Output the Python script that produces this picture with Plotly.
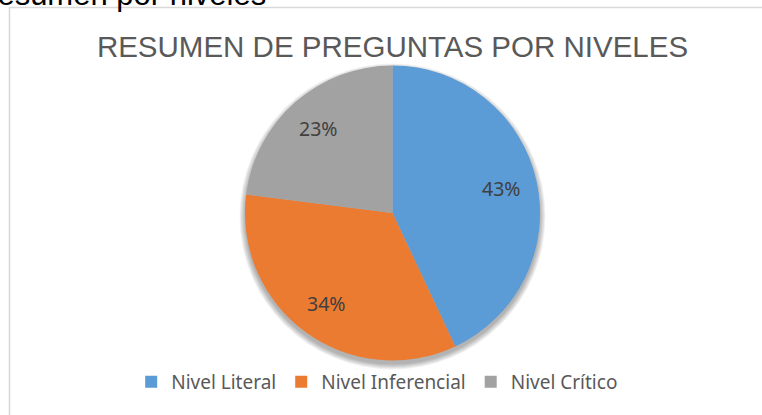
import math
import plotly.graph_objects as go

# Question counts by comprehension level (percent of total)
niveles = ["Nivel Literal", "Nivel Inferencial", "Nivel Crítico"]
porcentajes = [43, 34, 23]
colores = ["#5B9BD6", "#EC7B32", "#A2A2A2"]

titulo = "RESUMEN DE PREGUNTAS POR NIVELES"
encabezado = "Resumen por niveles"

W, H = 762, 415

# pie placement in pixels (centre and radius)
CX, CY, R = 392.5, 213.0, 147.5
dom_x = [(CX - R) / W, (CX + R) / W]
dom_y = [(H - CY - R) / H, (H - CY + R) / H]

fig = go.Figure(
    go.Pie(
        labels=niveles,
        values=porcentajes,
        sort=False,
        direction="clockwise",
        rotation=0,
        marker=dict(colors=colores, line=dict(width=0)),
        textinfo="none",
        hoverinfo="label+percent",
        domain=dict(x=dom_x, y=dom_y),
    )
)

# soft drop shadow under the pie
for k in range(6):
    rr = R + 0.5 + k
    fig.add_shape(
        type="circle", xref="paper", yref="paper", layer="below",
        x0=(CX - rr) / W, x1=(CX + rr) / W,
        y0=(H - (CY + 3.5) - rr) / H, y1=(H - (CY + 3.5) + rr) / H,
        line=dict(width=0), fillcolor="rgba(0,0,0,0.055)",
    )

# percentage labels placed at each slice's mid-angle
total = sum(porcentajes)
acum = 0.0
for v in porcentajes:
    mid = (acum + v / 2) / total * 2 * math.pi
    acum += v
    px = CX + 0.76 * R * math.sin(mid)
    py = CY - 0.76 * R * math.cos(mid)
    fig.add_annotation(
        text=f"{round(v / total * 100)}%", xref="paper", yref="paper",
        x=px / W, y=(H - py) / H, xanchor="center", yanchor="middle",
        showarrow=False, font=dict(family="Noto Sans", size=19.5, color="#404040"),
    )

# chart frame (open on the right and bottom edges of the page)
fig.add_shape(
    type="rect", xref="paper", yref="paper",
    x0=9.5 / W, x1=1.05, y0=-0.05, y1=1 - 7.5 / H,
    line=dict(color="#D9D9D9", width=1.6), fillcolor="rgba(0,0,0,0)",
    layer="below",
)

# document heading sitting just above the chart frame
fig.add_annotation(
    text=encabezado, xref="paper", yref="paper",
    x=268 / W, xanchor="right", y=1 + 25 / H, yanchor="top",
    showarrow=False, font=dict(family="Liberation Sans", size=31, color="#000000"),
)

fig.update_layout(
    width=W, height=H,
    margin=dict(l=0, r=0, t=0, b=0),
    paper_bgcolor="white",
    plot_bgcolor="white",
    title=dict(
        text=titulo, x=392.5 / W, xanchor="center", y=1 - 47 / H, yanchor="middle",
        font=dict(family="Liberation Sans", size=29.5, color="#595959"),
    ),
    showlegend=True,
    legend=dict(
        orientation="h", x=0.495, xanchor="center", y=(H - 382) / H, yanchor="middle",
        font=dict(family="Noto Sans", size=19, color="#595959"),
        bgcolor="rgba(0,0,0,0)",
    ),
)

fig.write_html("out.html")
